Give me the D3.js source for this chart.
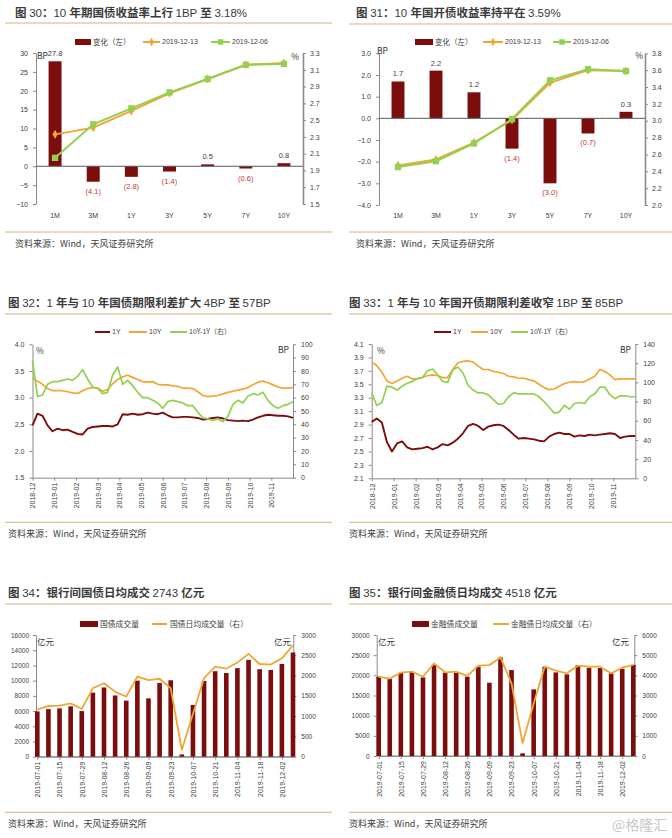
<!DOCTYPE html>
<html>
<head>
<meta charset="utf-8">
<script src="https://cdn.jsdelivr.net/npm/d3@7"></script>
<style>
  body { margin: 0; background: #fff; }
</style>
</head>
<body>
<svg id="chart" width="672" height="838"></svg>
<script>
const LATIN = '"Liberation Sans", Arial, sans-serif';
const CJK = '"Noto Sans CJK SC", "Noto Sans", sans-serif';
const BAR = '#7b0d0d', ORANGE = '#f3a532', GREEN = '#92d050', NEG = '#c0392b';
const AXIS = '#8a8a8a', TXT = '#404040', RULE = '#d2b27a';

// ---- data: yield curves (fig 30 / 31)
const tenors = ['1M', '3M', '1Y', '3Y', '5Y', '7Y', '10Y'];
const govChange = [27.8, -4.1, -2.8, -1.4, 0.5, -0.6, 0.8];
const gov1213 = [2.33, 2.41, 2.61, 2.82, 2.99, 3.16, 3.18];
const gov1206 = [2.05, 2.45, 2.64, 2.83, 2.99, 3.16, 3.17];
const cdbChange = [1.7, 2.2, 1.2, -1.4, -3.0, -0.7, 0.3];
const cdb1213 = [2.47, 2.54, 2.74, 3.01, 3.45, 3.60, 3.59];
const cdb1206 = [2.45, 2.52, 2.73, 3.02, 3.48, 3.61, 3.59];
const govLeftTicks = [-10, -5, 0, 5, 10, 15, 20, 25, 30];
const govRightTicks = [1.5, 1.7, 1.9, 2.1, 2.3, 2.5, 2.7, 2.9, 3.1, 3.3];
const cdbLeftTicks = [-4, -3, -2, -1, 0, 1, 2, 3];
const cdbRightTicks = [2.0, 2.2, 2.4, 2.6, 2.8, 3.0, 3.2, 3.4, 3.6, 3.8];

// ---- data: 1Y / 10Y and spread, weekly samples 2018-12 .. 2019-12 (fig 32 / 33)
const months = ['2018-12', '2019-01', '2019-02', '2019-03', '2019-04', '2019-05', '2019-06',
  '2019-07', '2019-08', '2019-09', '2019-10', '2019-11'];
const gov1Y = [2.48, 2.70, 2.66, 2.48, 2.37, 2.42, 2.39, 2.40, 2.36, 2.32, 2.31, 2.42, 2.45, 2.46, 2.47, 2.47,
  2.46, 2.50, 2.69, 2.68, 2.70, 2.68, 2.69, 2.72, 2.70, 2.69, 2.72, 2.67, 2.63, 2.63, 2.64, 2.64, 2.63, 2.62,
  2.59, 2.60, 2.62, 2.63, 2.61, 2.58, 2.57, 2.56, 2.57, 2.56, 2.59, 2.63, 2.66, 2.68, 2.67, 2.66, 2.66, 2.65, 2.62];
const gov10Y = [3.37, 3.31, 3.25, 3.17, 3.13, 3.13, 3.13, 3.11, 3.09, 3.08, 3.13, 3.17, 3.19, 3.18, 3.12, 3.15,
  3.26, 3.34, 3.39, 3.42, 3.38, 3.34, 3.30, 3.29, 3.30, 3.25, 3.24, 3.24, 3.22, 3.21, 3.18, 3.18, 3.17, 3.11,
  3.04, 3.02, 3.03, 3.04, 3.07, 3.10, 3.12, 3.14, 3.16, 3.19, 3.24, 3.29, 3.31, 3.28, 3.24, 3.20, 3.18, 3.18, 3.19];
const govSpread = [88, 61, 62, 70, 72, 72, 73, 74, 73, 76, 81, 74, 68, 67, 63, 64, 77, 83, 70, 73, 69, 64, 60, 60,
  58, 56, 52, 57, 58, 57, 56, 54, 54, 49, 45, 44, 43, 44, 42, 46, 55, 58, 56, 61, 63, 62, 64, 58, 54, 52, 54, 55, 57];
const cdb1Y = [2.94, 2.99, 2.93, 2.64, 2.50, 2.62, 2.65, 2.56, 2.53, 2.54, 2.55, 2.57, 2.53, 2.56, 2.61, 2.59,
  2.63, 2.69, 2.77, 2.88, 2.91, 2.88, 2.82, 2.87, 2.89, 2.90, 2.88, 2.82, 2.75, 2.69, 2.70, 2.69, 2.68, 2.66,
  2.65, 2.72, 2.76, 2.78, 2.76, 2.76, 2.72, 2.74, 2.73, 2.75, 2.74, 2.75, 2.76, 2.77, 2.76, 2.70, 2.72, 2.73, 2.73];
const cdb10Y = [3.83, 3.78, 3.68, 3.55, 3.51, 3.55, 3.59, 3.62, 3.58, 3.58, 3.60, 3.63, 3.64, 3.63, 3.60, 3.60,
  3.72, 3.82, 3.84, 3.85, 3.83, 3.77, 3.72, 3.72, 3.69, 3.68, 3.66, 3.62, 3.61, 3.59, 3.59, 3.57, 3.55, 3.50,
  3.45, 3.42, 3.43, 3.47, 3.51, 3.53, 3.54, 3.53, 3.54, 3.58, 3.62, 3.72, 3.69, 3.64, 3.57, 3.58, 3.58, 3.58, 3.58];
const cdbSpread = [89, 76, 79, 96, 95, 92, 96, 99, 101, 104, 105, 112, 114, 108, 101, 100, 113, 116, 110, 97, 92,
  89, 89, 87, 82, 77, 78, 85, 89, 88, 88, 88, 88, 85, 80, 74, 68, 69, 76, 72, 78, 79, 78, 85, 88, 95, 95, 87, 83,
  86, 86, 85, 85];

// ---- data: weekly interbank turnover (fig 34 / 35)
const weeks = ['2019-07-01', '2019-07-08', '2019-07-15', '2019-07-22', '2019-07-29', '2019-08-05', '2019-08-12',
  '2019-08-19', '2019-08-26', '2019-09-02', '2019-09-09', '2019-09-16', '2019-09-23', '2019-09-30', '2019-10-07',
  '2019-10-14', '2019-10-21', '2019-10-28', '2019-11-04', '2019-11-11', '2019-11-18', '2019-11-25', '2019-12-02',
  '2019-12-09'];
const weekTicks = ['2019-07-01', '2019-07-15', '2019-07-29', '2019-08-12', '2019-08-26', '2019-09-09',
  '2019-09-23', '2019-10-07', '2019-10-21', '2019-11-04', '2019-11-18', '2019-12-02'];
const govVolume = [5950, 6260, 6350, 6620, 6000, 8420, 9100, 8050, 7370, 10000, 7670, 9700, 10050, 300, 6800,
  9950, 11240, 11000, 11640, 12730, 11500, 11400, 12200, 13700];
const govDaily = [1160, 1250, 1260, 1315, 1180, 1690, 1810, 1600, 1480, 1975, 1890, 1920, 1685, 165, 1050, 1935,
  2220, 2170, 2320, 2535, 2285, 2270, 2425, 2743];
const finVolume = [19660, 19160, 20650, 20900, 19490, 22710, 20650, 20650, 19660, 22140, 18170, 24450, 21310, 660,
  16520, 22140, 20730, 20240, 22550, 21890, 21810, 20480, 21640, 22590];
const finDaily = [3930, 3840, 4130, 4180, 3930, 4590, 4150, 4180, 3970, 4480, 4510, 4890, 3600, 630, 2600, 4430,
  4230, 4100, 4480, 4430, 4430, 4100, 4380, 4518];

const svg = d3.select('#chart');

function styleAxis(g, size) {
  g.attr('font-size', size || 7).attr('font-family', LATIN);
  g.select('.domain').attr('stroke', AXIS);
  g.selectAll('.tick line').attr('stroke', AXIS);
  g.selectAll('.tick text').attr('fill', TXT);
}

function frame(x, titleY, ruleY, bottomY, parts) {
  const left = x < 300 ? 5 : 349, right = x < 300 ? 332 : 672;
  const t = svg.append('text').attr('x', x).attr('y', titleY).attr('font-size', 11.5).attr('fill', '#3a3a3a');
  parts.forEach(([s, bold]) => t.append('tspan').text(s)
    .attr('font-family', bold ? CJK : LATIN).attr('font-weight', bold ? 700 : 400));
  [ruleY, bottomY].forEach(y => svg.append('line').attr('x1', left).attr('x2', right)
    .attr('y1', y).attr('y2', y).attr('stroke', RULE).attr('stroke-width', 1));
  svg.append('text').attr('x', x).attr('y', bottomY + 14.5).attr('font-size', 9).attr('fill', TXT)
    .attr('font-family', CJK).text('资料来源：Wind，天风证券研究所');
}

function legend(y, items) {
  items.forEach(it => {
    if (it.kind === 'rect') {
      svg.append('rect').attr('x', it.x1).attr('y', y - 3).attr('width', it.x2 - it.x1).attr('height', 6)
        .attr('fill', it.color);
    } else {
      svg.append('line').attr('x1', it.x1).attr('x2', it.x2).attr('y1', y).attr('y2', y)
        .attr('stroke', it.color).attr('stroke-width', 2);
      if (it.sym) svg.append('path').attr('transform', `translate(${(it.x1 + it.x2) / 2},${y})`)
        .attr('d', d3.symbol(it.sym, it.size)).attr('fill', it.color);
    }
    svg.append('text').attr('x', it.tx).attr('y', y).attr('dy', '0.35em').attr('font-size', it.fs || 7)
      .attr('font-family', it.cjk ? CJK : LATIN).attr('fill', TXT).text(it.label);
  });
}

function unit(x, y, s, anchor) {
  svg.append('text').attr('x', x).attr('y', y).attr('dy', '0.35em').attr('font-size', 8.5)
    .attr('text-anchor', anchor || 'start').attr('font-family', CJK).attr('fill', '#333').text(s);
}

function tenorPanel(o) {
  const x = d3.scaleBand().domain(tenors).range([o.x0, o.x1]).paddingInner(0.66).paddingOuter(0.33);
  const yL = d3.scaleLinear().domain(o.left).range([o.yBot, o.yTop]);
  const yR = d3.scaleLinear().domain(o.right).range([o.yBot, o.yTop]);
  const cx = t => x(t) + x.bandwidth() / 2;
  const g = svg.append('g');

  g.append('g').attr('transform', `translate(${o.x0},0)`)
    .call(d3.axisLeft(yL).tickValues(o.leftTicks).tickFormat(o.leftFmt).tickSize(3).tickSizeOuter(0).tickPadding(5))
    .call(styleAxis);
  g.append('g').attr('transform', `translate(${o.x1},0)`)
    .call(d3.axisRight(yR).tickValues(o.rightTicks).tickFormat(d3.format('.1f')).tickSize(3).tickSizeOuter(0).tickPadding(4))
    .call(styleAxis)
    .select('.domain').attr('stroke-width', 1.6);

  g.selectAll('rect.bar').data(o.change).join('rect').attr('class', 'bar')
    .attr('x', (d, i) => x(tenors[i])).attr('width', x.bandwidth())
    .attr('y', d => Math.min(yL(d), yL(0))).attr('height', d => Math.abs(yL(d) - yL(0)))
    .attr('fill', BAR);

  g.append('line').attr('x1', o.x0).attr('x2', o.x1).attr('y1', yL(0)).attr('y2', yL(0))
    .attr('stroke', '#595959');

  g.selectAll('text.cat').data(tenors).join('text').attr('class', 'cat')
    .attr('x', cx).attr('y', o.catY).attr('text-anchor', 'middle').attr('font-size', 7)
    .attr('font-family', LATIN).attr('fill', TXT).text(d => d);

  g.selectAll('text.val').data(o.change).join('text').attr('class', 'val')
    .attr('x', (d, i) => cx(tenors[i])).attr('y', d => d >= 0 ? yL(d) - 5 : yL(d) + 12)
    .attr('text-anchor', 'middle').attr('font-size', 7.5).attr('font-family', LATIN)
    .attr('fill', d => d >= 0 ? TXT : NEG)
    .text(d => d >= 0 ? d.toFixed(1) : `(${Math.abs(d).toFixed(1)})`);

  [[o.a, ORANGE, d3.symbolDiamond, 24], [o.b, GREEN, d3.symbolSquare, 40]].forEach(([vals, col, sym, size]) => {
    g.append('path').datum(vals).attr('fill', 'none').attr('stroke', col).attr('stroke-width', 2)
      .attr('d', d3.line().x((d, i) => cx(tenors[i])).y(d => yR(d)));
    g.selectAll(null).data(vals).join('path')
      .attr('transform', (d, i) => `translate(${cx(tenors[i])},${yR(d)})`)
      .attr('d', d3.symbol(sym, size)).attr('fill', col);
  });
}

function spreadPanel(o) {
  const n = o.s1.length;
  const x = d3.scaleLinear().domain([0, n - 1]).range([o.x0, o.x1]);
  const mx = d3.scaleLinear().domain([0, months.length]).range([o.x0, o.x1]);
  const yL = d3.scaleLinear().domain(o.left).range([o.yBot, o.yTop]);
  const yR = d3.scaleLinear().domain(o.right).range([o.yBot, o.yTop]);
  const g = svg.append('g');

  g.append('g').attr('transform', `translate(${o.x0},0)`)
    .call(d3.axisLeft(yL).tickValues(o.leftTicks).tickFormat(d3.format('.1f')).tickSize(3).tickSizeOuter(0).tickPadding(5))
    .call(styleAxis);
  g.append('g').attr('transform', `translate(${o.x1},0)`)
    .call(d3.axisRight(yR).tickValues(o.rightTicks).tickFormat(d3.format('d')).tickSize(3).tickSizeOuter(0).tickPadding(5))
    .call(styleAxis);
  const xa = g.append('g').attr('transform', `translate(0,${o.yBot})`)
    .call(d3.axisBottom(mx).tickValues(d3.range(months.length)).tickFormat(i => months[i]).tickSize(3).tickSizeOuter(0))
    .call(styleAxis);
  xa.selectAll('.tick text').attr('transform', 'rotate(-90)').attr('text-anchor', 'end')
    .attr('x', -5).attr('y', 0).attr('dy', '0.35em');

  [[o.s1, BAR, yL, 1.9], [o.s2, ORANGE, yL, 1.7], [o.s3, GREEN, yR, 1.7]].forEach(([vals, col, y, w]) => {
    g.append('path').datum(vals).attr('fill', 'none').attr('stroke', col).attr('stroke-width', w)
      .attr('stroke-linejoin', 'round')
      .attr('d', d3.line().x((d, i) => x(i)).y(d => y(d)));
  });
}

function volumePanel(o) {
  const x = d3.scalePoint().domain(weeks).range([o.bx0, o.bx1]);
  const yL = d3.scaleLinear().domain(o.left).range([o.yBot, o.yTop]);
  const yR = d3.scaleLinear().domain(o.right).range([o.yBot, o.yTop]);
  const g = svg.append('g');

  g.append('g').attr('transform', `translate(${o.x0},0)`)
    .call(d3.axisLeft(yL).tickValues(o.leftTicks).tickFormat(d3.format('d')).tickSize(3).tickSizeOuter(0).tickPadding(4))
    .call(styleAxis, 6.5);
  g.append('g').attr('transform', `translate(${o.x1},0)`)
    .call(d3.axisRight(yR).tickValues(o.rightTicks).tickFormat(d3.format('d')).tickSize(3).tickSizeOuter(0).tickPadding(5))
    .call(styleAxis, 6.5);
  const xa = g.append('g').attr('transform', `translate(0,${o.yBot})`)
    .call(d3.axisBottom(x).tickValues(weekTicks).tickSize(3).tickSizeOuter(0))
    .call(styleAxis);
  xa.selectAll('.tick text').attr('transform', 'rotate(-90)').attr('text-anchor', 'end')
    .attr('x', -5).attr('y', 0).attr('dy', '0.35em');
  g.append('line').attr('x1', o.x0).attr('x2', o.x1).attr('y1', o.yBot).attr('y2', o.yBot).attr('stroke', AXIS);

  g.selectAll('rect.bar').data(o.bars).join('rect').attr('class', 'bar')
    .attr('x', (d, i) => x(weeks[i]) - 2.3).attr('width', 4.6)
    .attr('y', d => yL(d)).attr('height', d => yL(0) - yL(d)).attr('fill', BAR);

  g.append('path').datum(o.line).attr('fill', 'none').attr('stroke', ORANGE).attr('stroke-width', 1.8)
    .attr('d', d3.line().x((d, i) => x(weeks[i])).y(d => yR(d)));
}

// ---------- figure 30
frame(15, 17, 23, 232, [['图 ', 1], ['30', 0], ['：', 1], ['10 ', 0], ['年期国债收益率上行 ', 1], ['1BP ', 0], ['至 ', 1], ['3.18%', 0]]);
legend(42, [
  { kind: 'rect', x1: 75, x2: 91, color: BAR, tx: 93, label: '变化（左）', cjk: true, fs: 7.5 },
  { kind: 'line', x1: 143, x2: 160, color: ORANGE, sym: d3.symbolDiamond, size: 20, tx: 162, label: '2019-12-13' },
  { kind: 'line', x1: 211, x2: 230, color: GREEN, sym: d3.symbolSquare, size: 30, tx: 232, label: '2019-12-06' }
]);
tenorPanel({ x0: 36, x1: 303, yTop: 53, yBot: 204, catY: 217.5,
  left: [-10, 30], leftTicks: govLeftTicks, leftFmt: d3.format('d'),
  right: [1.5, 3.3], rightTicks: govRightTicks,
  change: govChange, a: gov1213, b: gov1206 });
unit(37, 56, 'BP');
unit(299, 57, '%', 'end');

// ---------- figure 31
frame(356, 17, 24, 232, [['图 ', 1], ['31', 0], ['：', 1], ['10 ', 0], ['年国开债收益率持平在 ', 1], ['3.59%', 0]]);
legend(42, [
  { kind: 'rect', x1: 415, x2: 433, color: BAR, tx: 435, label: '变化（左）', cjk: true, fs: 7.5 },
  { kind: 'line', x1: 483, x2: 503, color: ORANGE, sym: d3.symbolDiamond, size: 20, tx: 505, label: '2019-12-13' },
  { kind: 'line', x1: 553, x2: 571, color: GREEN, sym: d3.symbolSquare, size: 30, tx: 573, label: '2019-12-06' }
]);
tenorPanel({ x0: 379, x1: 645, yTop: 53.3, yBot: 205, catY: 217.5,
  left: [-4, 3], leftTicks: cdbLeftTicks, leftFmt: d3.format('.1f'),
  right: [2.0, 3.8], rightTicks: cdbRightTicks,
  change: cdbChange, a: cdb1213, b: cdb1206 });
unit(377, 51, 'BP');
unit(643, 56, '%', 'end');

// ---------- figure 32
frame(8, 307, 314, 522.3, [['图 ', 1], ['32', 0], ['：', 1], ['1 ', 0], ['年与 ', 1], ['10 ', 0], ['年国债期限利差扩大 ', 1], ['4BP ', 0], ['至 ', 1], ['57BP', 0]]);
legend(332, [
  { kind: 'line', x1: 95, x2: 110, color: BAR, tx: 112, label: '1Y' },
  { kind: 'line', x1: 129, x2: 147, color: ORANGE, tx: 149, label: '10Y' },
  { kind: 'line', x1: 170, x2: 187, color: GREEN, tx: 189, label: '10Y-1Y（右）', cjk: true }
]);
spreadPanel({ x0: 32.5, x1: 293, yTop: 344.3, yBot: 477.7,
  left: [1.5, 4.0], leftTicks: [1.5, 2.0, 2.5, 3.0, 3.5, 4.0],
  right: [0, 100], rightTicks: d3.range(0, 101, 10),
  s1: gov1Y, s2: gov10Y, s3: govSpread });
unit(36, 351, '%');
unit(289, 350, 'BP', 'end');

// ---------- figure 33
frame(349, 307, 314, 522.3, [['图 ', 1], ['33', 0], ['：', 1], ['1 ', 0], ['年与 ', 1], ['10 ', 0], ['年国开债期限利差收窄 ', 1], ['1BP ', 0], ['至 ', 1], ['85BP', 0]]);
legend(332, [
  { kind: 'line', x1: 434, x2: 451, color: BAR, tx: 453, label: '1Y' },
  { kind: 'line', x1: 471, x2: 488, color: ORANGE, tx: 490, label: '10Y' },
  { kind: 'line', x1: 511, x2: 528, color: GREEN, tx: 530, label: '10Y-1Y（右）', cjk: true }
]);
spreadPanel({ x0: 371.7, x1: 635.3, yTop: 344, yBot: 478.3,
  left: [2.1, 4.1], leftTicks: [2.1, 2.3, 2.5, 2.7, 2.9, 3.1, 3.3, 3.5, 3.7, 3.9, 4.1],
  right: [0, 140], rightTicks: d3.range(0, 141, 20),
  s1: cdb1Y, s2: cdb10Y, s3: cdbSpread });
unit(377, 351, '%');
unit(631, 350, 'BP', 'end');

// ---------- figure 34
frame(8, 597, 604, 812.3, [['图 ', 1], ['34', 0], ['：银行间国债日均成交 ', 1], ['2743 ', 0], ['亿元', 1]]);
legend(624, [
  { kind: 'rect', x1: 80, x2: 98, color: BAR, tx: 100, label: '国债成交量', cjk: true, fs: 7.8 },
  { kind: 'line', x1: 152, x2: 167, color: ORANGE, tx: 170, label: '国债日均成交量（右）', cjk: true, fs: 7.8 }
]);
volumePanel({ x0: 36, x1: 293.3, bx0: 37.3, bx1: 293, yTop: 635, yBot: 756.7,
  left: [0, 16000], leftTicks: d3.range(0, 16001, 2000),
  right: [0, 3000], rightTicks: d3.range(0, 3001, 500),
  bars: govVolume, line: govDaily });
unit(37, 642, '亿元');
unit(291, 642, '亿元', 'end');

// ---------- figure 35
frame(349, 597, 604, 812.3, [['图 ', 1], ['35', 0], ['：银行间金融债日均成交 ', 1], ['4518 ', 0], ['亿元', 1]]);
legend(624, [
  { kind: 'rect', x1: 412, x2: 429, color: BAR, tx: 431, label: '金融债成交量', cjk: true, fs: 7.8 },
  { kind: 'line', x1: 493, x2: 509, color: ORANGE, tx: 511, label: '金融债日均成交量（右）', cjk: true, fs: 7.8 }
]);
volumePanel({ x0: 376.7, x1: 634.3, bx0: 378.7, bx1: 633.3, yTop: 635, yBot: 756,
  left: [0, 30000], leftTicks: d3.range(0, 30001, 5000),
  right: [0, 6000], rightTicks: d3.range(0, 6001, 1000),
  bars: finVolume, line: finDaily });
unit(378, 642, '亿元');
unit(629, 642, '亿元', 'end');

svg.append('text').attr('x', 612).attr('y', 830).attr('font-size', 14).attr('font-family', CJK)
  .attr('fill', '#c8c8c8').text('@格隆汇');
</script>
</body>
</html>
